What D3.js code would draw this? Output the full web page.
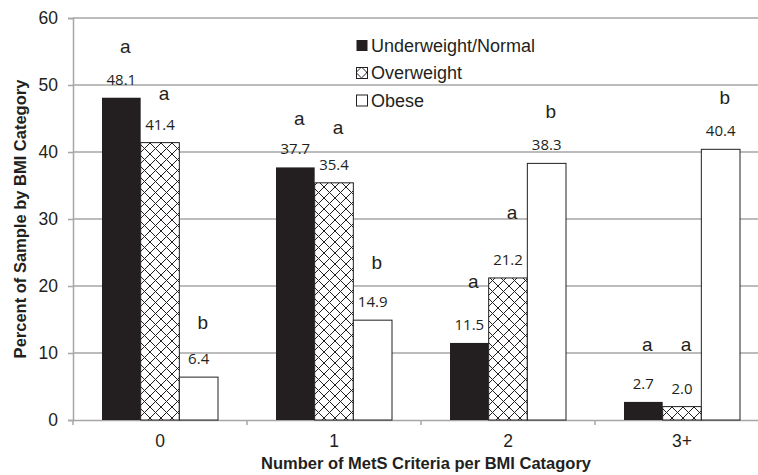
<!DOCTYPE html>
<html>
<head>
<meta charset="utf-8">
<script src="https://cdn.jsdelivr.net/npm/d3@7"></script>
<style>
  body { margin: 0; background: #fff; }
  svg { display: block; }
</style>
</head>
<body>
<svg id="chart" width="758" height="475"></svg>
<script>
// categories and series
var categories = ['0', '1', '2', '3+'];
var seriesNames = ['Underweight/Normal', 'Overweight', 'Obese'];
var underweight = [48.1, 37.7, 11.5, 2.7];
var overweight = [41.4, 35.4, 21.2, 2.0];
var obese = [6.4, 14.9, 38.3, 40.4];
var yTicks = [0, 10, 20, 30, 40, 50, 60];

// significance letters and the height (in % units) at which they were placed
var letters = [['a', 'a', 'b'], ['a', 'a', 'b'], ['a', 'a', 'b'], ['a', 'a', 'b']];
var letterLevel = [[55.7, 48.7, 14.5], [45.0, 43.6, 23.4], [20.6, 30.9, 46.0], [11.2, 11.2, 48.0]];

var svg = d3.select('#chart');
var ink = '#231f20';
var grid = '#a6a6a6';
var sans = '"Liberation Sans", Arial, sans-serif';

var margin = { left: 73, top: 18, right: 769, bottom: 420 };

var x0 = d3.scaleBand().domain(categories).range([margin.left, margin.right]).padding(0);
var x1 = d3.scaleBand().domain(seriesNames).range([0, x0.bandwidth()])
    .paddingInner(0).paddingOuter(0.75);
var y = d3.scaleLinear().domain([0, 60]).range([margin.bottom, margin.top]);

// crosshatch pattern for the overweight series
var defs = svg.append('defs');
var pat = defs.append('pattern')
    .attr('id', 'hatch')
    .attr('patternUnits', 'userSpaceOnUse')
    .attr('width', 11).attr('height', 11);
pat.append('rect').attr('width', 11).attr('height', 11).attr('fill', '#fff');
pat.append('path')
    .attr('d', 'M0,0L11,11M11,0L0,11')
    .attr('stroke', ink).attr('stroke-width', 1);

var fills = ['#231f20', 'url(#hatch)', '#fff'];

// gridlines
svg.append('g').selectAll('line').data(yTicks.slice(1))
    .enter().append('line')
    .attr('x1', margin.left).attr('x2', 758)
    .attr('y1', function (d) { return y(d); })
    .attr('y2', function (d) { return y(d); })
    .attr('stroke', grid).attr('stroke-width', 1.5);

// y axis
var yAxis = svg.append('g')
    .attr('transform', 'translate(' + margin.left + ',0)')
    .call(d3.axisLeft(y).tickValues(yTicks).tickSize(5).tickPadding(10));
yAxis.select('.domain').attr('stroke', grid).attr('stroke-width', 1.5);
yAxis.selectAll('.tick line').attr('stroke', grid).attr('stroke-width', 1.5);
yAxis.selectAll('.tick text')
    .attr('fill', ink)
    .style('font-family', sans)
    .style('font-size', '17.5px');

// x axis: ticks sit on the category boundaries
var xAxis = svg.append('g')
    .attr('transform', 'translate(0,' + margin.bottom + ')')
    .call(d3.axisBottom(x0).tickSize(0).tickPadding(15));
xAxis.select('.domain').attr('stroke', grid).attr('stroke-width', 1.5);
xAxis.selectAll('.tick text')
    .attr('fill', ink)
    .style('font-family', sans)
    .style('font-size', '17.5px');
xAxis.selectAll('.bound').data(categories)
    .enter().append('line')
    .attr('x1', function (d) { return x0(d); })
    .attr('x2', function (d) { return x0(d); })
    .attr('y1', 0).attr('y2', 5)
    .attr('stroke', grid).attr('stroke-width', 1.5);

// bars
var rows = categories.map(function (c, i) {
    return [underweight[i], overweight[i], obese[i]].map(function (v, j) {
        return { cat: c, series: seriesNames[j], idx: j, value: v,
                 letter: letters[i][j], level: letterLevel[i][j] };
    });
});

var groups = svg.append('g').selectAll('g').data(rows)
    .enter().append('g')
    .attr('transform', function (d) { return 'translate(' + x0(d[0].cat) + ',0)'; });

groups.selectAll('rect').data(function (d) { return d; })
    .enter().append('rect')
    .attr('x', function (d) { return x1(d.series); })
    .attr('y', function (d) { return y(d.value); })
    .attr('width', x1.bandwidth())
    .attr('height', function (d) { return y(0) - y(d.value); })
    .attr('fill', function (d) { return fills[d.idx]; })
    .attr('stroke', ink)
    .attr('stroke-width', function (d) { return d.idx === 0 ? 0 : 1; });

// value labels
groups.selectAll('.val').data(function (d) { return d; })
    .enter().append('text')
    .attr('class', 'val')
    .attr('x', function (d) { return x1(d.series) + x1.bandwidth() / 2; })
    .attr('y', function (d) { return y(d.value) - 13; })
    .attr('text-anchor', 'middle')
    .attr('fill', ink)
    .style('font-family', '"Open Sans", sans-serif')
    .style('font-size', '15px')
    .text(function (d) { return d.value.toFixed(1); });

// significance letters
groups.selectAll('.sig').data(function (d) { return d; })
    .enter().append('text')
    .attr('class', 'sig')
    .attr('x', function (d) { return x1(d.series) + x1.bandwidth() / 2 + 4; })
    .attr('y', function (d) { return y(d.level) + 6; })
    .attr('text-anchor', 'middle')
    .attr('fill', ink)
    .style('font-family', sans)
    .style('font-size', '19px')
    .text(function (d) { return d.letter; });

// legend
var legend = svg.append('g').attr('transform', 'translate(356,45)');
var item = legend.selectAll('g').data(seriesNames)
    .enter().append('g')
    .attr('transform', function (d, i) { return 'translate(0,' + (i * 27.5) + ')'; });
item.append('rect')
    .attr('x', 0.5).attr('y', -5).attr('width', 11).attr('height', 11)
    .attr('fill', function (d, i) { return fills[i]; })
    .attr('stroke', ink)
    .attr('stroke-width', function (d, i) { return i === 0 ? 0 : 1; });
item.append('text')
    .attr('x', 15).attr('y', 6.5)
    .attr('fill', ink)
    .style('font-family', sans)
    .style('font-size', '18px')
    .text(function (d) { return d; });

// axis titles
svg.append('text')
    .attr('transform', 'translate(26,219) rotate(-90)')
    .attr('text-anchor', 'middle')
    .attr('fill', ink)
    .style('font-family', sans)
    .style('font-size', '16.5px')
    .style('font-weight', 'bold')
    .text('Percent of Sample by BMI Category');

svg.append('text')
    .attr('x', 426).attr('y', 469)
    .attr('text-anchor', 'middle')
    .attr('fill', ink)
    .style('font-family', sans)
    .style('font-size', '16.5px')
    .style('font-weight', 'bold')
    .text('Number of MetS Criteria per BMI Catagory');
</script>
</body>
</html>
